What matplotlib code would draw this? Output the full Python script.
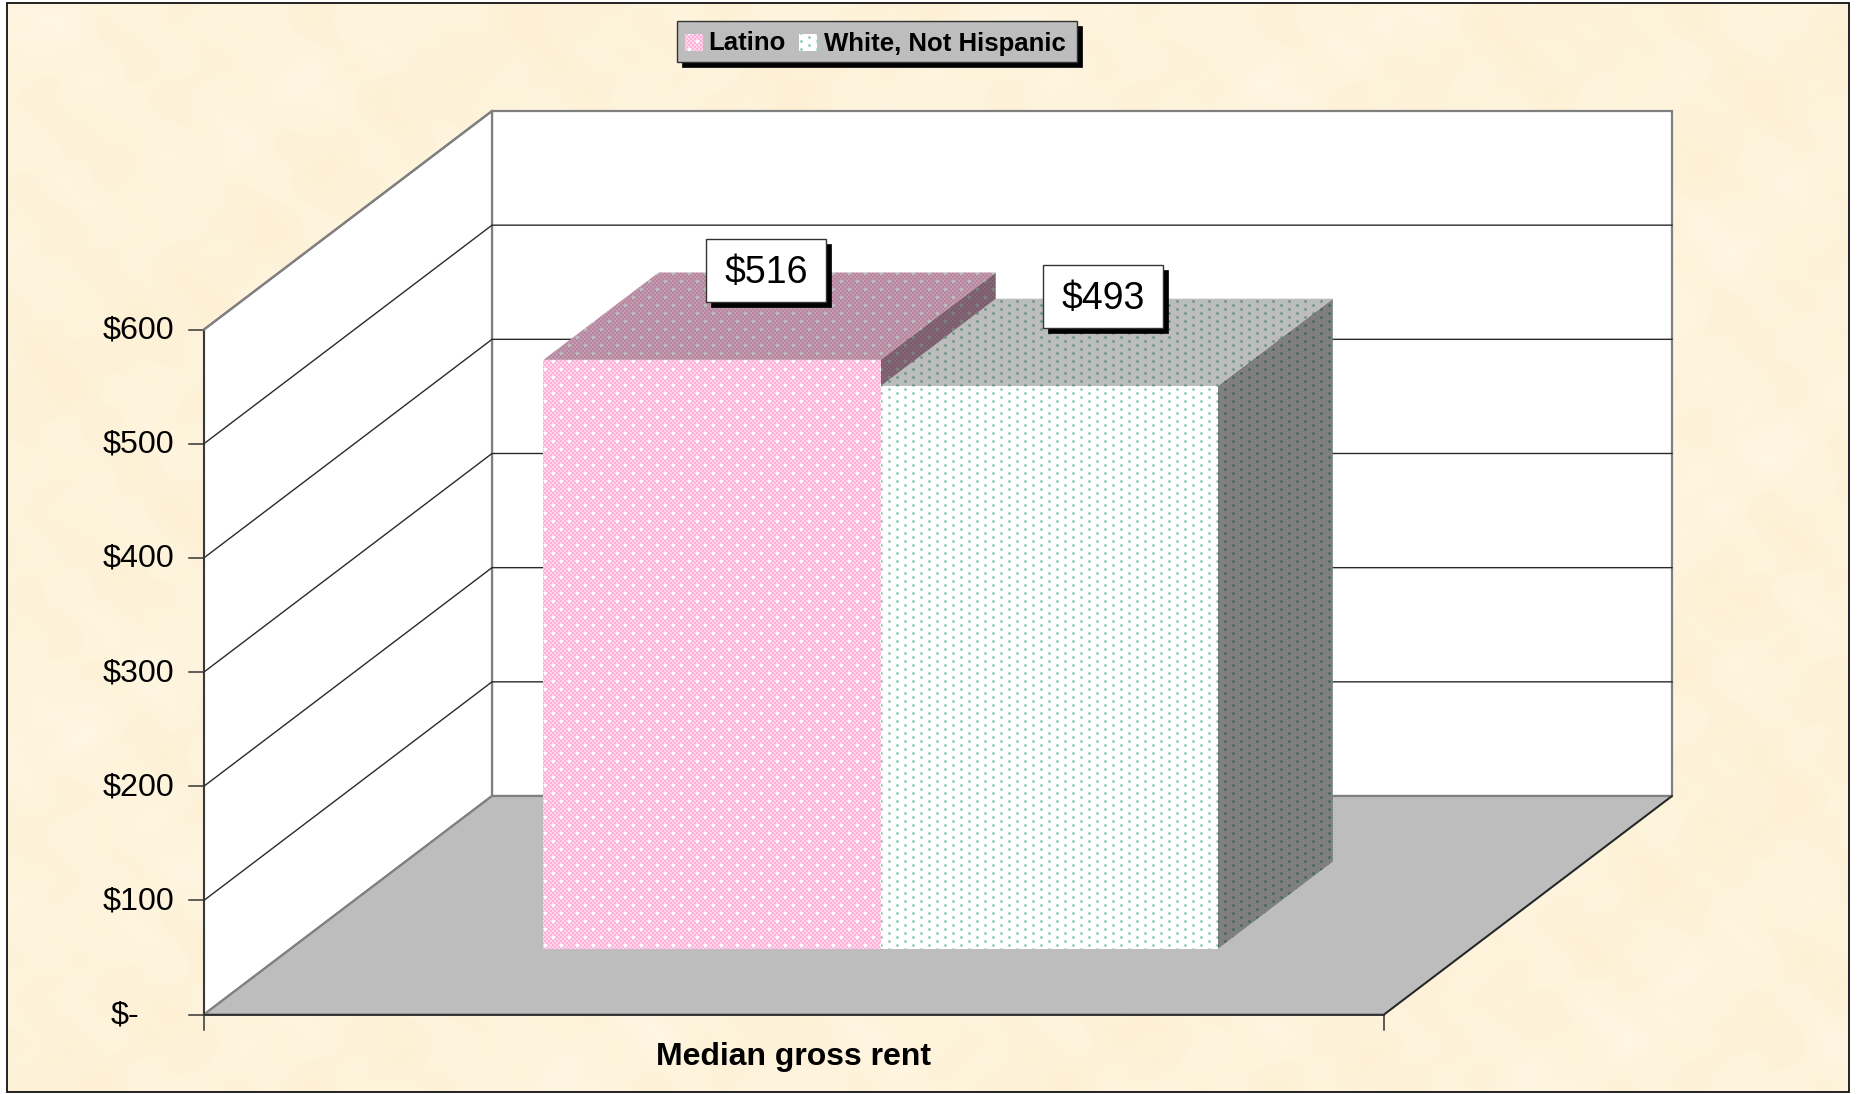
import numpy as np
import matplotlib
matplotlib.use("Agg")
import matplotlib.pyplot as plt
from matplotlib.patches import Polygon, Rectangle

categories = ["Median gross rent"]
series_names = ["Latino", "White, Not Hispanic"]
series_values = [516, 493]
value_labels = ["$516", "$493"]
tick_values = [0, 100, 200, 300, 400, 500, 600]
tick_labels = ["$-", "$100", "$200", "$300", "$400", "$500", "$600"]

W, H = 1858, 1094
plt.rcParams["font.family"] = ["Liberation Sans", "DejaVu Sans"]
fig = plt.figure(figsize=(W / 100, H / 100), dpi=100, facecolor="white")
ax = fig.add_axes([0, 0, 1, 1])
ax.set_xlim(0, W)
ax.set_ylim(H, 0)
ax.axis("off")

# 3-D oblique projection of the chart box
X0, Y0, PW, PH, DX, DY = 204, 1014.5, 1180, 685, 288, 218.5
VMAX = tick_values[-1]


def project(u, v, d):
    return (X0 + PW * u + DX * d, Y0 - PH * v / VMAX - DY * d)


yy, xx = np.mgrid[0:H, 0:W]

# parchment background (smooth deterministic blotches)
blot = (0.9 * np.sin(xx / 31.0 + 1.3 * np.sin(yy / 61.0)) * np.sin(yy / 23.0 + 0.7)
        + 0.7 * np.sin(xx / 53.0 + yy / 37.0) + 0.6 * np.sin(xx / 17.0 - yy / 21.0)
        + 0.5 * np.sin(xx / 11.0 + 2 * np.sin(yy / 13.0))
        + 0.7 * np.sin(xx / 170.0 + 1.0) * np.cos(yy / 120.0))
parch = np.dstack([254 + 0.3 * blot, 243 + 1.2 * blot, 219 + 2.8 * blot]).clip(0, 255) / 255
im = ax.imshow(parch, extent=(0, W, H, 0), interpolation="nearest", aspect="auto", zorder=0)
im.set_clip_path(Rectangle((7, 3), 1842, 1089, transform=ax.transData))
ax.set_xlim(0, W)
ax.set_ylim(H, 0)

# fill patterns
check = ((xx // 2 + yy // 2) % 2 == 0)
pink = np.ones((H, W, 3))
pink[check] = np.array([255, 176, 218]) / 255
pink[~check] = np.array([255, 214, 236]) / 255
pd1 = (((yy % 8) < 3) & (((xx + 8 * ((yy // 8) % 2)) % 16) < 3))
pink[pd1] = np.array([255, 250, 253]) / 255

sx_ = (xx + 8 * ((yy // 4) % 2)) % 16
sy_ = yy % 4
white = np.ones((H, W, 3))
halo = (sx_ < 3) & (sy_ < 3)
core = (sx_ >= 1) & (sx_ < 2) & (sy_ >= 1) & (sy_ < 2)
white[halo] = np.array([190, 228, 212]) / 255
white[core] = np.array([70, 170, 130]) / 255


def textured(arr, poly, shade=1.0, zorder=3):
    p = Polygon(poly, closed=True, transform=ax.transData, fc="none", ec="none", zorder=zorder)
    ax.add_patch(p)
    i = ax.imshow(arr * shade, extent=(0, W, H, 0), interpolation="nearest", aspect="auto", zorder=zorder)
    i.set_clip_path(p)
    ax.set_xlim(0, W)
    ax.set_ylim(H, 0)


# walls and floor
GRAY = "#808080"
ax.add_patch(Polygon([project(0, 0, 1), project(1, 0, 1), project(1, VMAX, 1), project(0, VMAX, 1)],
                     fc="white", ec=GRAY, lw=1.6, zorder=1))
ax.add_patch(Polygon([project(0, 0, 0), project(0, 0, 1), project(0, VMAX, 1), project(0, VMAX, 0)],
                     fc="white", ec=GRAY, lw=1.6, zorder=1))
ax.add_patch(Polygon([project(0, 0, 0), project(1, 0, 0), project(1, 0, 1), project(0, 0, 1)],
                     fc="#BDBDBD", ec=GRAY, lw=1.6, zorder=1))

for tv, tl in zip(tick_values, tick_labels):
    if 0 < tv < VMAX:
        pts = [project(0, tv, 0), project(0, tv, 1), project(1, tv, 1)]
        ax.plot(*zip(*pts), color="#2a2a2a", lw=1.0, zorder=2)
    x, y = project(0, tv, 0)
    ax.plot([x - 15, x], [y, y], color="#333333", lw=1.1, zorder=2)
    # the zero label sits further left, as in the source chart
    pad = 65 if tv == 0 else 30
    ax.text(x - pad, y + 1, tl, ha="right", va="center", fontsize=23.2, color="black", zorder=6)

# floor front and right edges, axis line
ax.plot(*zip(project(0, 0, 0), project(1, 0, 0)), color="#222222", lw=1.2, zorder=2)
ax.plot(*zip(project(1, 0, 0), project(1, 0, 1)), color="#222222", lw=1.2, zorder=2)
ax.plot(*zip(project(0, 0, 0), project(0, VMAX, 0)), color="#333333", lw=1.3, zorder=2)
ax.plot(*zip(project(0, VMAX, 0), project(0, VMAX, 1)), color=GRAY, lw=1.6, zorder=2)
for u in (0, 1):
    x, y = project(u, 0, 0)
    ax.plot([x, x], [y, y + 15], color="#333333", lw=1.1, zorder=2)

# bars
GAP_U = 0.2144
BAR_U = 0.2857
D0, D1 = 0.30, 0.70
textures = [pink, white]
for k, val in enumerate(series_values):
    u0 = GAP_U + k * BAR_U
    u1 = u0 + BAR_U
    z = 3 + k
    side = [project(u1, 0, D0), project(u1, 0, D1), project(u1, val, D1), project(u1, val, D0)]
    top = [project(u0, val, D0), project(u1, val, D0), project(u1, val, D1), project(u0, val, D1)]
    front = [project(u0, 0, D0), project(u1, 0, D0), project(u1, val, D0), project(u0, val, D0)]
    textured(textures[k], side, shade=0.50, zorder=z)
    textured(textures[k], top, shade=0.74, zorder=z)
    textured(textures[k], front, shade=1.0, zorder=z)

    cx, cy = project(u0 + BAR_U / 2, val, 0.5)
    cx -= 4
    cy -= 46
    bw, bh = 120, 63
    ax.add_patch(Rectangle((cx - bw / 2 + 5, cy - bh / 2 + 5), bw, bh, fc="black", ec="black", lw=0.5, zorder=7))
    ax.add_patch(Rectangle((cx - bw / 2, cy - bh / 2), bw, bh, fc="white", ec="#333333", lw=1.0, zorder=8))
    ax.text(cx + 1, cy + 3, value_labels[k], ha="center", va="center", fontsize=27, color="black", zorder=9)

# category label
cx, _ = project(0.5, 0, 0)
ax.text(cx, 1056.5, categories[0], ha="center", va="center", fontsize=23, fontweight="bold", color="black", zorder=6)

# legend
LX, LY, LW, LH = 677, 21, 400, 41
ax.add_patch(Rectangle((LX + 5, LY + 5), LW, LH, fc="black", ec="black", lw=0.5, zorder=7))
ax.add_patch(Rectangle((LX, LY), LW, LH, fc="#BDBDBD", ec="#333333", lw=1.0, zorder=8))
swatches = [685, 799]
text_x = [708, 824]
for k, name in enumerate(series_names):
    sx = swatches[k]
    poly = [(sx, 34), (sx + 18, 34), (sx + 18, 51), (sx, 51)]
    textured(textures[k], poly, zorder=9)
    ax.text(text_x[k], 43.5, name, ha="left", va="center", fontsize=18.5, fontweight="bold", color="black", zorder=9)

# outer border
ax.add_patch(Rectangle((7, 3), 1842, 1089, fc="none", ec="#111111", lw=1.3, zorder=10))

fig.savefig("out.png", dpi=100, facecolor="white")
